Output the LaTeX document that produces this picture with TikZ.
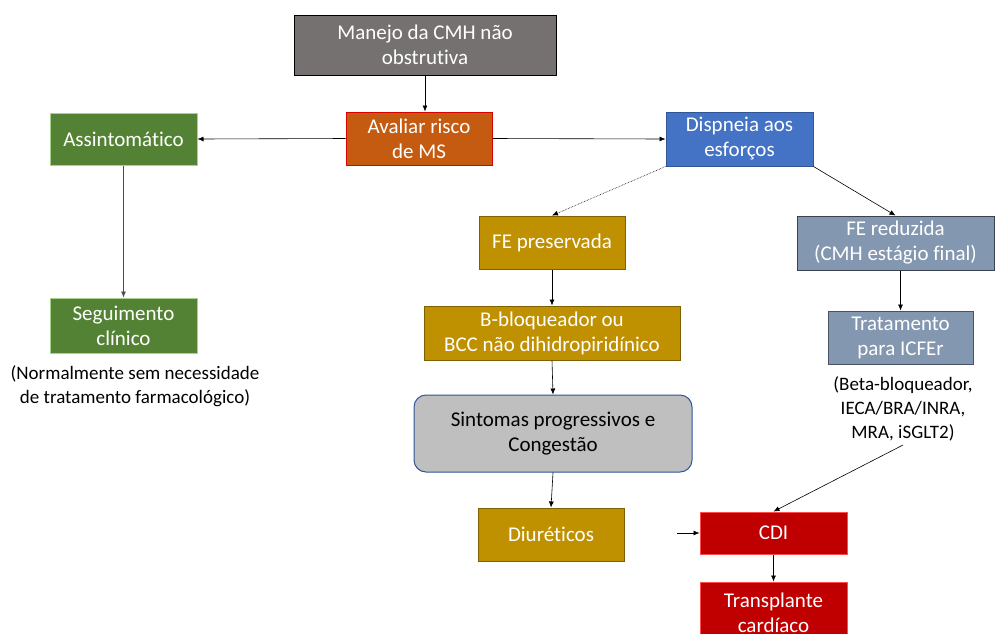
\documentclass[tikz,border=0pt]{standalone}
\usepackage{fontspec}
\setmainfont{Carlito}[Ligatures={NoCommon}]
\usetikzlibrary{arrows.meta}
\definecolor{cgray}{HTML}{767171}
\definecolor{corange}{HTML}{C55A11}
\definecolor{cred}{HTML}{C00000}
\definecolor{cgreen}{HTML}{548235}
\definecolor{cgreenb}{HTML}{A9D18E}
\definecolor{cblue}{HTML}{4472C4}
\definecolor{cblueb}{HTML}{2F5597}
\definecolor{cgold}{HTML}{BF9000}
\definecolor{cgoldb}{HTML}{7F6000}
\definecolor{cslate}{HTML}{8497B0}
\definecolor{cslateb}{HTML}{3A4250}
\definecolor{csin}{HTML}{BFBFBF}
\tikzset{
  box/.style={rectangle, inner sep=0pt, align=center, text=white, line width=1pt,
    font=\fontsize{21}{25}\selectfont},
  note/.style={inner sep=0pt, align=center, text=black, font=\fontsize{19}{24}\selectfont},
  arr/.style={-{Latex[length=6pt,width=5pt]}, line width=0.6pt, black}
}
\begin{document}
\begin{tikzpicture}[x=1pt,y=-1pt]
\useasboundingbox[fill=white] (0,0) rectangle (995,633);
\node[box, fill=cgray, draw=black, minimum width=262pt, minimum height=60pt] (man) at (425,45) {Manejo da CMH não\\obstrutiva};
\node[box, fill=corange, draw=red!85!black, minimum width=146pt, minimum height=53pt] (aval) at (419,138.5) {Avaliar risco\\de MS};
\node[box, fill=cgreen, draw=cgreenb, minimum width=147pt, minimum height=52pt] (ass) at (123.5,139) {Assintomático};
\node[box, fill=cblue, draw=cblueb, minimum width=147pt, minimum height=54pt] (disp) at (739.5,139) {Dispneia aos\\esforços};
\node[box, fill=cgold, draw=cgoldb, minimum width=146pt, minimum height=53pt] (fep) at (552,242.5) {FE preservada};
\node[box, fill=cslate, draw=cslateb, minimum width=197pt, minimum height=54pt] (fer) at (895.5,243) {FE reduzida\\(CMH estágio final)};
\node[box, fill=cgreen, draw=cgreenb, minimum width=147pt, minimum height=55pt] (seg) at (123.5,325.5) {Seguimento\\clínico};
\node[note] (n1) at (135,386) {(Normalmente sem necessidade\\de tratamento farmacológico)};
\node[box, fill=cgold, draw=cgoldb, minimum width=256pt, minimum height=54pt] (bbl) at (552,333) {B-bloqueador ou\\BCC não dihidropiridínico};
\node[box, fill=csin, draw=cblueb, text=black, rounded corners=12pt, minimum width=278pt, minimum height=77pt] (sin) at (553,433.5) {Sintomas progressivos e\\Congestão};
\node[box, fill=cgold, draw=cgoldb, minimum width=146pt, minimum height=53pt] (diu) at (551,534.5) {Diuréticos};
\node[box, fill=cslate, draw=cslateb!80!cslate, minimum width=145pt, minimum height=53pt] (trt) at (900.5,337.5) {Tratamento\\para ICFEr};
\node[note] (n2) at (903,409) {(Beta-bloqueador,\\IECA/BRA/INRA,\\MRA, iSGLT2)};
\node[box, fill=cred, draw=red!70!white, minimum width=147pt, minimum height=42pt] (cdi) at (773.5,533) {CDI};
\node[box, fill=cred, draw=red!70!white, minimum width=147pt, minimum height=62pt] (tra) at (773.5,613) {Transplante\\cardíaco};
\coordinate (free) at (677,533);
\coordinate (n2end) at (903,445);
% connectors
\draw[arr] (man.south) -- (man.south |- aval.north);
\draw[arr] (aval.west) -- (ass.east);
\draw[arr] (aval.east) -- (disp.west);
\draw[arr, black!70] (ass.south) -- (seg.north);
\draw[arr, densely dotted] (disp.south west) -- (fep.north);
\draw[arr] (disp.south east) -- (fer.north);
\draw[arr] (fep.south) -- (bbl.north);
\draw[arr] (bbl.south) -- (sin.north);
\draw[arr] (sin.south) -- (diu.north);
\draw[arr] (trt.north |- fer.south) -- (trt.north);
\draw[arr] (n2end) -- (cdi.north);
\draw[arr] (free) -- (cdi.west);
\draw[arr] (cdi.south) -- (tra.north);
\end{tikzpicture}
\end{document}
